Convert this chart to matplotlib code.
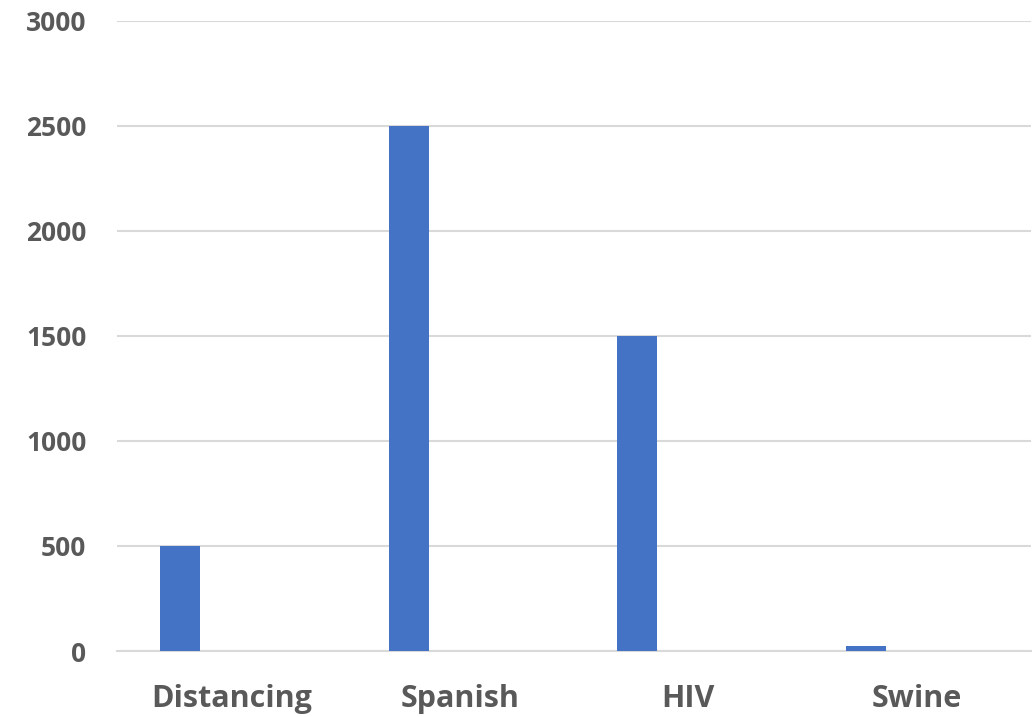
import matplotlib.pyplot as plt
import numpy as np

BLUE = "#4472C4"
GRID = "#D9D9D9"
TEXT = "#595959"

categories = ["Distancing", "Spanish", "HIV", "Swine"]
values = [500, 2500, 1500, 25]
yticks = [0, 500, 1000, 1500, 2000, 2500, 3000]

plt.rcParams["font.family"] = ["Open Sans", "DejaVu Sans"]

fig = plt.figure(figsize=(10.36, 7.17), dpi=100)
ax = fig.add_axes([0.113, 0.092, 0.882, 0.879])

x = np.arange(len(categories))
ax.bar(x - 0.223, values, width=0.175, color=BLUE, zorder=3)

ax.set_xlim(-0.5, len(categories) - 0.5)
ax.set_ylim(0, 3000)
ax.set_yticks(yticks)
ax.set_yticklabels([str(v) for v in yticks], fontsize=19, fontweight="bold", color=TEXT)
ax.set_xticks(x)
ax.set_xticklabels(categories, fontsize=22, fontweight="bold", color=TEXT)
ax.tick_params(axis="y", length=0, pad=22)
ax.tick_params(axis="x", length=0, pad=24)

for s in ["top", "right", "left"]:
    ax.spines[s].set_visible(False)
ax.spines["bottom"].set_color(GRID)
ax.spines["bottom"].set_linewidth(1.5)
ax.set_axisbelow(True)
ax.yaxis.grid(True, color=GRID, linewidth=1.5, zorder=0)

fig.savefig("out.png", dpi=100)
